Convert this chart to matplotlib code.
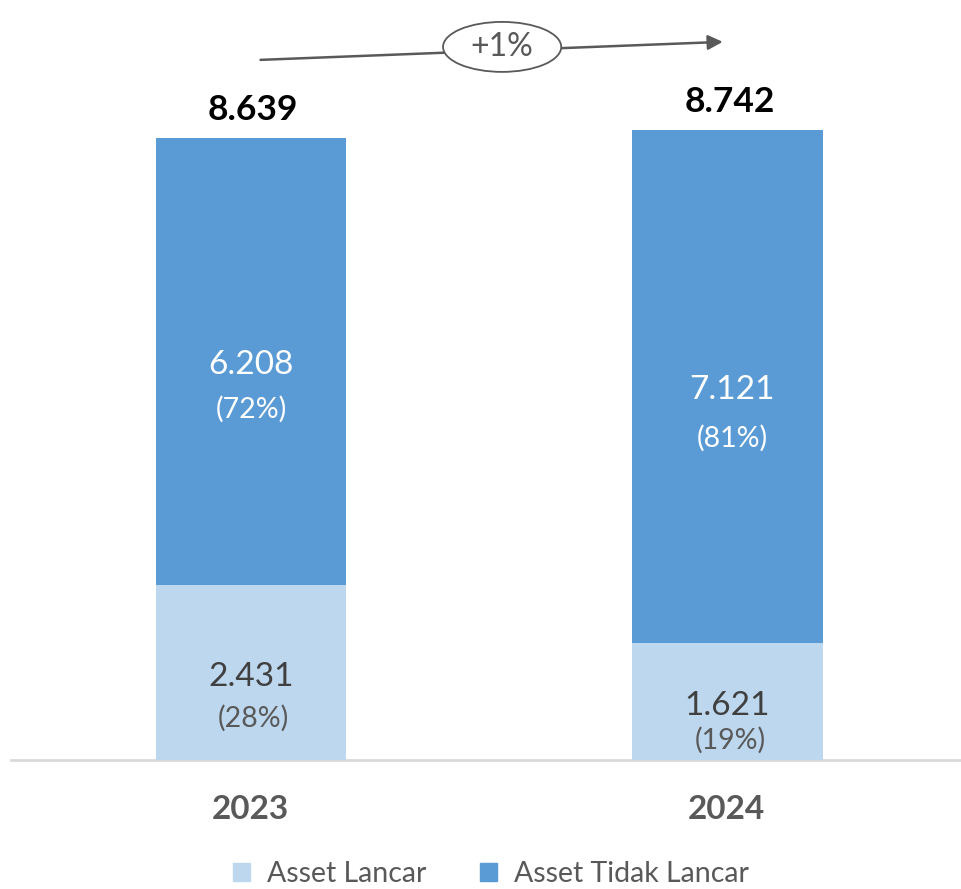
import matplotlib
matplotlib.use('Agg')
import matplotlib.pyplot as plt
from matplotlib.patches import Ellipse, Patch

plt.rcParams['font.family'] = ['Lato', 'DejaVu Sans']

# data
years = ['2023', '2024']
lancar = [2.431, 1.621]
tidak_lancar = [6.208, 7.121]
totals = ['8.639', '8.742']
lancar_lbl = ['2.431', '1.621']
tidak_lbl = ['6.208', '7.121']
lancar_pct = ['(28%)', '(19%)']
tidak_pct = ['(72%)', '(81%)']
growth = '+1%'

c_light = '#BDD7EE'
c_dark = '#5B9BD5'

W, H = 961, 889
fig = plt.figure(figsize=(W / 100, H / 100), dpi=100)
ax = fig.add_axes([11 / W, 129 / H, 950 / W, 760 / H])

x = [0, 1]
bw = 0.399
ax.bar(x, lancar, width=bw, color=c_light, label='Asset Lancar')
ax.bar(x, tidak_lancar, width=bw, bottom=lancar, color=c_dark, label='Asset Tidak Lancar')

ax.set_xlim(-0.5037, 1.49)
ax.set_ylim(0, 760 / 72.03)
ax.axis('off')
ax.axhline(0, color='#D9D9D9', lw=2, zorder=0, clip_on=False)

# label offsets (tweaked by eye)
off_tidak = [(0.0, -0.05, -0.66), (0.01, -0.04, -0.71)]
off_lancar = [(0.0, -0.06, -0.64), (0.0, -0.06, -0.54)]

for i in x:
    top = lancar[i] + tidak_lancar[i]
    mid_t = lancar[i] + tidak_lancar[i] / 2
    mid_l = lancar[i] / 2
    dx, dv, dp = off_tidak[i]
    ax.text(i + dx, mid_t + dv, tidak_lbl[i], ha='center', va='center',
            color='white', fontsize=24)
    ax.text(i + dx, mid_t + dp, tidak_pct[i], ha='center', va='center',
            color='white', fontsize=20.5)
    dx, dv, dp = off_lancar[i]
    ax.text(i + dx, mid_l + dv, lancar_lbl[i], ha='center', va='center',
            color='#404040', fontsize=24)
    ax.text(i + dx + 0.006, mid_l + dp, lancar_pct[i], ha='center', va='center',
            color='#595959', fontsize=20.5)
    ax.text(i + 0.004, top + 0.39, totals[i], ha='center', va='center',
            color='black', fontsize=25.5, fontweight='bold')
    ax.text(i - 0.002, -0.69, years[i], ha='center', va='center',
            color='#595959', fontsize=24, fontweight='bold', clip_on=False)

# growth arrow
ax.annotate('', xy=(0.99, 9.97), xytext=(0.02, 9.72),
            arrowprops=dict(arrowstyle='-|>', color='#595959', lw=1.8,
                            mutation_scale=22, shrinkA=0, shrinkB=0))
ax.add_patch(Ellipse((0.527, 9.90), 0.248, 0.694, facecolor='white',
                     edgecolor='#595959', lw=1.3, zorder=5))
ax.text(0.527, 9.90, growth, ha='center', va='center', color='#595959',
        fontsize=23, zorder=6)

handles = [Patch(color=c_light), Patch(color=c_dark)]
fig.legend(handles, ['Asset Lancar', 'Asset Tidak Lancar'], loc='center',
           bbox_to_anchor=(491 / W, 1 - 874 / H), ncol=2, frameon=False,
           fontsize=20.5, labelcolor='#595959', handlelength=0.6, handleheight=0.6,
           handletextpad=0.6, columnspacing=1.9)

fig.savefig('out.png', dpi=100)
